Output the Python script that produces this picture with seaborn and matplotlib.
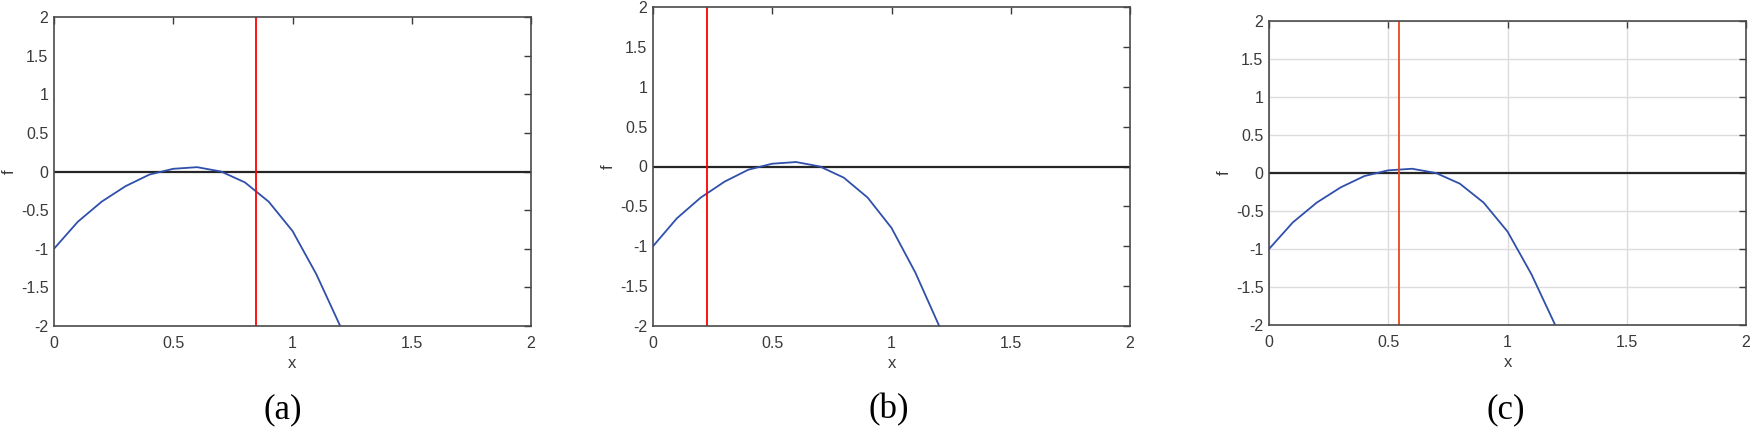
import numpy as np
import pandas as pd
import matplotlib
matplotlib.use('Agg')
import matplotlib.pyplot as plt
import seaborn as sns

# curve samples
x_vals = [0.0, 0.1, 0.2, 0.3, 0.4, 0.5, 0.6, 0.7, 0.8, 0.9, 1.0, 1.1, 1.2]
f_vals = [-1.0, -0.65, -0.39, -0.19, -0.04, 0.035, 0.056, 0.0, -0.14, -0.39, -0.77, -1.33, -2.0]
zero_x = [0.0, 2.0]
zero_y = [0.0, 0.0]
red_x = [0.845, 0.227, 0.545]
captions = ['(a)', '(b)', '(c)']
ticks_x = [0, 0.5, 1, 1.5, 2]
ticks_y = [-2, -1.5, -1, -0.5, 0, 0.5, 1, 1.5, 2]
tick_lbl_x = ['0', '0.5', '1', '1.5', '2']
tick_lbl_y = ['-2', '-1.5', '-1', '-0.5', '0', '0.5', '1', '1.5', '2']

sns.set_theme(style='white')
plt.rcParams['font.family'] = ['Liberation Sans', 'DejaVu Sans']

df = pd.DataFrame({'x': x_vals, 'f': f_vals})
zero_df = pd.DataFrame({'x': zero_x, 'f': zero_y})

W, H = 1750, 434
fig = plt.figure(figsize=(17.5, 4.34), dpi=100)
# left, top, right, bottom in pixels
px_boxes = [(54, 17, 531, 326), (653, 7, 1130, 326), (1269, 21, 1746, 325)]
red_cols = ['#ff0000', '#ff0000', '#e8481f']
cap_x = [283, 889, 1506]
grey = '#3a3a3a'

for i, (l, t, r, b) in enumerate(px_boxes):
    ax = fig.add_axes([l / W, 1 - b / H, (r - l) / W, (b - t) / H])
    if i == 2:
        ax.grid(True, color='#dcdcdc', linewidth=1.0)
        ax.set_axisbelow(True)
    sns.lineplot(data=zero_df, x='x', y='f', ax=ax, color='#262626', linewidth=1.6)
    sns.lineplot(data=df, x='x', y='f', ax=ax, color='#2f4fab', linewidth=1.3)
    ax.axvline(red_x[i], color=red_cols[i], linewidth=1.3)
    ax.set_xlim(0, 2)
    ax.set_ylim(-2, 2)
    ax.set_xticks(ticks_x)
    ax.set_xticklabels(tick_lbl_x)
    ax.set_yticks(ticks_y)
    ax.set_yticklabels(tick_lbl_y)
    ax.tick_params(direction='in', length=5, width=1, colors=grey,
                   top=True, right=True, labelsize=11.5)
    ax.tick_params(axis='x', pad=7)
    ax.tick_params(axis='y', pad=4)
    for sp in ax.spines.values():
        sp.set_visible(True)
        sp.set_color('#4a4a4a')
        sp.set_linewidth(1.2)
    ax.set_xlabel('x', fontsize=12, color=grey, labelpad=4)
    ax.set_ylabel('f', fontsize=12, color=grey, labelpad=3)
    fig.text(cap_x[i] / W, 1 - 410 / H, captions[i], ha='center', va='center',
             fontsize=25, family='Liberation Serif', color='black')

fig.savefig('out.png', dpi=100, facecolor='white')
